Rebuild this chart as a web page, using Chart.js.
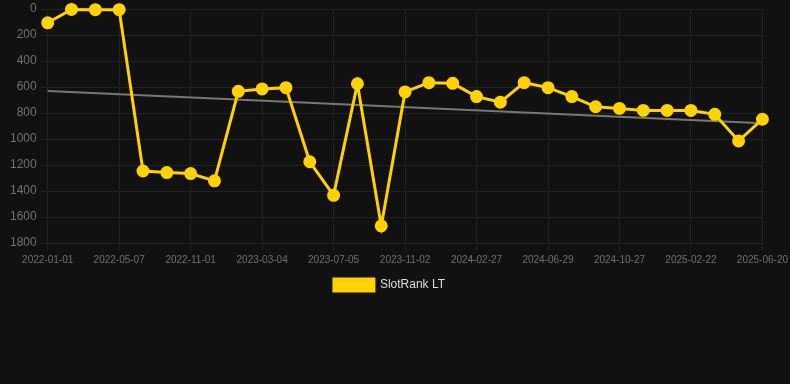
<!DOCTYPE html>
<html>
<head>
<meta charset="utf-8">
<script src="https://cdn.jsdelivr.net/npm/chart.js@4.4.1/dist/chart.umd.min.js"></script>
<style>
  html, body { margin: 0; padding: 0; background: #111111; }
  .chart-box { width: 790px; height: 384px; }
</style>
</head>
<body>
<div class="chart-box">
  <canvas id="rank-chart"></canvas>
</div>
<script>
// dates of the samples (only every third one is shown on the axis)
var dates = [
  '2022-01-01', '2022-02-12', '2022-03-26', '2022-05-07', '2022-06-25', '2022-08-13',
  '2022-11-01', '2022-12-12', '2023-01-22', '2023-03-04', '2023-04-14', '2023-05-25',
  '2023-07-05', '2023-08-14', '2023-09-23', '2023-11-02', '2023-12-10', '2024-01-19',
  '2024-02-27', '2024-04-08', '2024-05-19', '2024-06-29', '2024-08-07', '2024-09-17',
  '2024-10-27', '2024-12-05', '2025-01-13', '2025-02-22', '2025-04-01', '2025-05-11',
  '2025-06-20'
];

var rankLT = [
  106, 3, 5, 5, 1246, 1258, 1266, 1322, 633, 615, 605, 1175,
  1433, 575, 1669, 638, 567, 572, 674, 717, 567, 605, 674, 752,
  765, 780, 780, 780, 810, 1015, 848
];

// trend line, start and end
var trend = [630].concat(new Array(29).fill(null)).concat([879]);

var yTicks = { min: 0, max: 1800, step: 200 };

var ctx = document.getElementById('rank-chart').getContext('2d');
var chart = new Chart(ctx, {
  type: 'line',
  data: {
    labels: dates,
    datasets: [{
      label: 'SlotRank LT',
      data: rankLT,
      borderColor: '#ffd200',
      backgroundColor: '#ffd200',
      borderWidth: 3,
      pointRadius: 5,
      pointHoverRadius: 6,
      pointBackgroundColor: '#ffd200',
      pointBorderColor: '#ffd200',
      tension: 0,
      clip: false,
      order: 1
    }, {
      label: 'trend',
      data: trend,
      borderColor: '#777777',
      borderWidth: 2,
      pointRadius: 0,
      spanGaps: true,
      tension: 0,
      order: 2
    }]
  },
  options: {
    responsive: true,
    maintainAspectRatio: false,
    animation: false,
    layout: { padding: { top: 2, right: 0, bottom: 83, left: -11 } },
    plugins: {
      legend: {
        position: 'bottom',
        labels: {
          color: '#dddddd',
          font: { family: 'Arial, "Liberation Sans"', size: 12 },
          boxWidth: 40,
          boxHeight: 12,
          filter: function (item) { return item.text !== 'trend'; }
        }
      },
      tooltip: { enabled: false }
    },
    scales: {
      x: {
        grid: { color: '#222222', tickLength: 8 },
        border: { color: '#222222' },
        afterFit: function (s) { s.paddingRight -= 1; },
        ticks: {
          color: '#707070',
          font: { family: 'Arial, "Liberation Sans"', size: 10 },
          maxRotation: 0,
          autoSkip: false,
          padding: 3,
          callback: function (val, i) {
            return i % 3 === 0 ? dates[i] : null;
          }
        }
      },
      y: {
        reverse: true,
        min: yTicks.min,
        max: yTicks.max,
        grid: { color: '#222222', tickLength: 8 },
        border: { color: '#222222' },
        afterFit: function (s) { s.width += 18; },
        ticks: {
          stepSize: yTicks.step,
          color: '#707070',
          font: { family: 'Arial, "Liberation Sans"', size: 12, lineHeight: 0.5 },
          padding: 3,
          callback: function (val) { return String(val); }
        }
      }
    }
  }
});
</script>
</body>
</html>
